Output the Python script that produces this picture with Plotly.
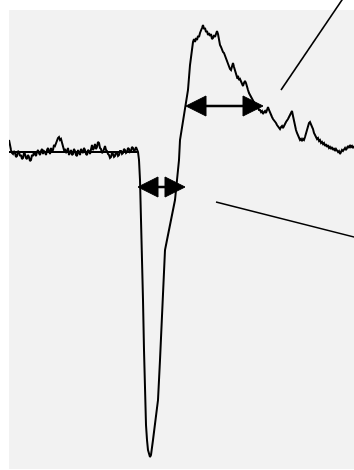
import plotly.graph_objects as go

# Recorded waveform: time (samples) and amplitude (µV, baseline = 0)
base_t = list(range(0, 129))
base_v = [12, 5, 2, -1, -2, 1, -1, -5, -4, 1, 0, -4, -3, -7, -6, -1, -2, -6, -7, -3,
          -5, -9, -8, -3, -4, 0, -2, -4, 0, 2, -1, -3, 1, 3, -2, 1, 0, -3, 2, 4,
          1, -2, 4, 1, 2, 7, 6, 9, 10, 14, 15, 12, 13, 9, 7, 2, 3, -1, 1, 4,
          -3, 0, 2, -3, -2, 3, 1, -3, -4, 2, 0, -3, 3, 0, -1, 4, 2, -2, -3, 2,
          1, -2, 4, 7, 2, 4, 8, 3, 5, 10, 9, 4, 3, -1, 0, 4, 6, 2, 1, -2,
          -3, -6, -5, -1, -2, -5, -4, 0, -1, -4, -3, 1, 1, -2, -1, 3, 2, -1, 0, 4,
          3, 0, 1, 5, 4, 1, 2, 5, 3]

spike_t = [129, 130, 131, 132, 133, 134, 135, 136, 137, 138, 139, 141, 142, 144, 146,
           149, 151, 153, 155, 156, 158, 161, 164, 166, 168, 170, 171, 174, 177, 179,
           181, 183]
spike_v = [0, -8, -28, -68, -98, -148, -198, -248, -273, -288, -298, -305, -303, -288, -273,
           -248, -208, -158, -118, -98, -88, -73, -58, -48, -28, -8, 12, 32, 47, 62,
           87, 104]

decay_t = list(range(184, 346))
decay_v = [110, 113, 110, 114, 112, 116, 115, 119, 121, 124, 127, 123, 124, 120, 121, 117,
           119, 116, 118, 113, 114, 117, 115, 119, 121, 118, 112, 107, 105, 102, 100, 99,
           96, 93, 91, 87, 86, 83, 82, 86, 89, 85, 82, 78, 75, 76, 72, 73, 70, 68,
           66, 69, 71, 69, 64, 62, 59, 57, 55, 53, 51, 50, 47, 46, 44, 45, 42, 42,
           40, 41, 38, 40, 41, 39, 43, 45, 42, 39, 38, 35, 33, 32, 30, 29, 27, 26,
           25, 23, 25, 26, 24, 27, 28, 30, 31, 33, 35, 37, 39, 41, 36, 30, 27, 22,
           19, 16, 15, 12, 13, 11, 13, 12, 15, 19, 23, 27, 29, 30, 28, 25, 23, 19,
           17, 15, 13, 14, 11, 12, 9, 10, 8, 9, 6, 8, 5, 7, 4, 5, 3, 5,
           2, 4, 1, 3, 2, 0, 1, -2, 0, 2, 1, 3, 4, 2, 5, 6, 4, 7,
           5, 6, 4, 6]

# Baseline reference level
ref_t = [0, 128]
ref_v = [0, 0]

# Duration markers: level, start, end
arrow_level = [-35, 46]
arrow_start = [129, 177]
arrow_end = [176, 254]

HEAD_LEN = 20
HEAD_HALF = 10

fig = go.Figure()
fig.add_trace(go.Scatter(x=ref_t, y=ref_v, mode="lines",
                         line=dict(color="black", width=2.2), hoverinfo="skip"))
fig.add_trace(go.Scatter(x=base_t + spike_t + decay_t, y=base_v + spike_v + decay_v,
                         mode="lines", line=dict(color="black", width=2),
                         hoverinfo="skip"))

shapes = []
for lv, x0, x1 in zip(arrow_level, arrow_start, arrow_end):
    shapes.append(dict(type="line", xref="x", yref="y", x0=x0 + HEAD_LEN / 2,
                       x1=x1 - HEAD_LEN / 2, y0=lv, y1=lv,
                       line=dict(color="black", width=2.5)))
    left = (f"M {x0} {lv} L {x0 + HEAD_LEN} {lv + HEAD_HALF} "
            f"L {x0 + HEAD_LEN} {lv - HEAD_HALF} Z")
    right = (f"M {x1} {lv} L {x1 - HEAD_LEN} {lv + HEAD_HALF} "
             f"L {x1 - HEAD_LEN} {lv - HEAD_HALF} Z")
    for p in (left, right):
        shapes.append(dict(type="path", xref="x", yref="y", path=p,
                           fillcolor="black", line=dict(color="black", width=1)))

# Leader lines
shapes.append(dict(type="line", xref="paper", yref="paper",
                   x0=(281 - 9) / 345, y0=(469 - 90) / 459,
                   x1=(344 - 9) / 345, y1=(469 + 3) / 459,
                   line=dict(color="black", width=1.6)))
shapes.append(dict(type="line", xref="paper", yref="paper",
                   x0=(216 - 9) / 345, y0=(469 - 202) / 459,
                   x1=(356 - 9) / 345, y1=(469 - 237.5) / 459,
                   line=dict(color="black", width=1.6)))

fig.update_layout(
    width=354, height=470,
    margin=dict(l=9, r=0, t=10, b=1),
    paper_bgcolor="white",
    plot_bgcolor="#f2f2f2",
    showlegend=False,
    shapes=shapes,
    xaxis=dict(range=[0, 345], visible=False, fixedrange=True),
    yaxis=dict(range=[-317, 142], visible=False, fixedrange=True),
)

fig.write_html("out.html")
